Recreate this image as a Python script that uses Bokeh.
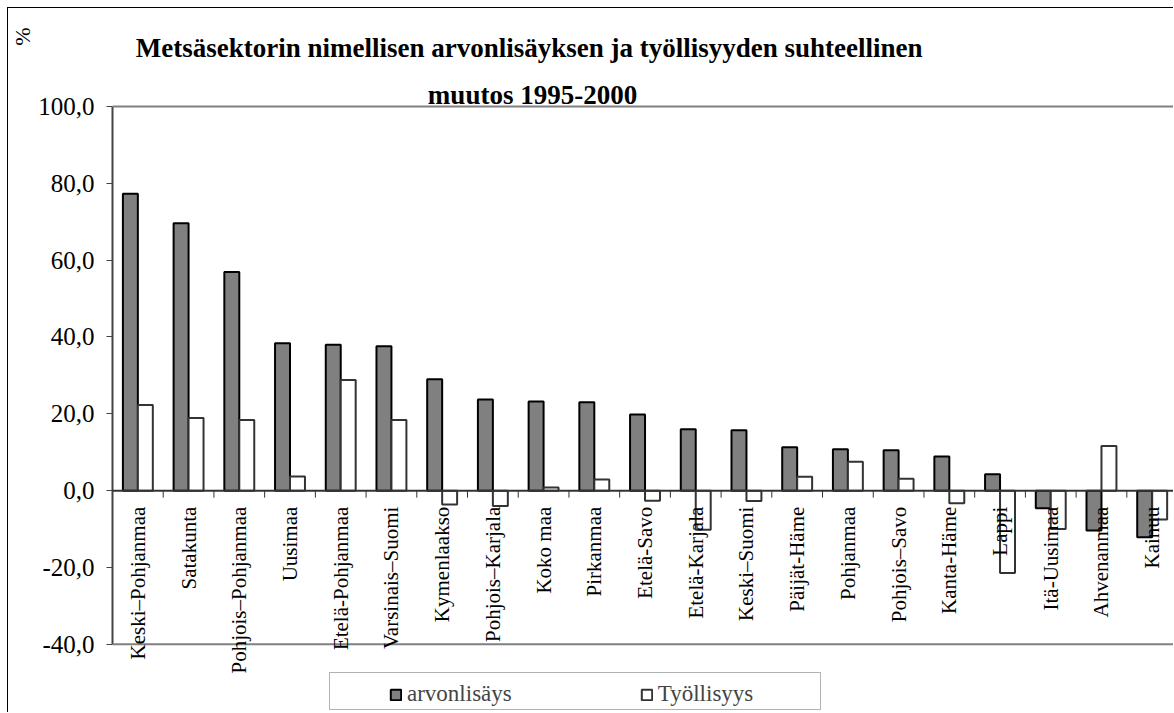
import numpy as np
from bokeh.plotting import figure
from bokeh.models import (Range1d, FixedTicker, CustomJSTickFormatter, Span, Label, LabelSet,
                          Legend, LegendItem, ColumnDataSource, BoxAnnotation, Title)
from bokeh.embed import file_html
from bokeh.resources import INLINE

# ---- data ----
categories = ["Keski–Pohjanmaa", "Satakunta", "Pohjois–Pohjanmaa", "Uusimaa",
              "Etelä-Pohjanmaa", "Varsinais–Suomi", "Kymenlaakso", "Pohjois–Karjala",
              "Koko maa", "Pirkanmaa", "Etelä-Savo", "Etelä-Karjala", "Keski–Suomi",
              "Päijät-Häme", "Pohjanmaa", "Pohjois–Savo", "Kanta-Häme", "Lappi",
              "Itä-Uusimaa", "Ahvenanmaa", "Kainuu"]
arvonlisays = [77.3, 69.6, 56.9, 38.4, 38.0, 37.6, 29.0, 23.7, 23.2, 23.0, 19.8,
               16.0, 15.7, 11.3, 10.8, 10.5, 8.9, 4.3, -4.6, -10.4, -12.1]
tyollisyys = [22.3, 18.9, 18.4, 3.7, 28.8, 18.4, -3.6, -4.0, 0.8, 2.9, -2.6,
              -10.2, -2.7, 3.6, 7.5, 3.1, -3.3, -21.4, -10.0, 11.6, -7.5]
y_ticks = [-40, -20, 0, 20, 40, 60, 80, 100]
series_names = ["arvonlisäys", "Työllisyys"]
title_line1 = "Metsäsektorin nimellisen arvonlisäyksen ja työllisyyden  suhteellinen"
title_line2 = "muutos 1995-2000"
y_unit = "%"

n = len(categories)
centers = np.arange(n) + 0.5
bar_w = 0.295
FONT = "Liberation Serif"
Y_MIN, Y_MAX = -40, 100
Y_VIEW_MIN, Y_VIEW_MAX = -58.0, 125.5   # room for title above and labels/legend below
FRAME_H = 705
tick_len = 7 * (Y_VIEW_MAX - Y_VIEW_MIN) / FRAME_H  # 7 px in data units

p = figure(width=1166, height=705, x_range=Range1d(0, 20.94),
           y_range=Range1d(Y_VIEW_MIN, Y_VIEW_MAX),
           output_backend="svg", toolbar_location=None,
           min_border_left=102, min_border_right=0, min_border_top=0, min_border_bottom=0,
           background_fill_color="white", border_fill_color="white")
p.outline_line_color = None
p.xgrid.visible = False
p.ygrid.visible = False
p.xaxis.visible = False
p.styles = {"margin": "7px 0 0 7px", "border-left": "1px solid black",
            "border-top": "1px solid black"}

# bars
r1 = p.vbar(x=centers - bar_w / 2, top=arvonlisays, width=bar_w,
            fill_color="#808080", line_color="black", line_width=2)
r2 = p.vbar(x=centers + bar_w / 2, top=tyollisyys, width=bar_w,
            fill_color="white", line_color="#333333", line_width=2)

# plot-area top/bottom lines and category axis at zero
for loc in (Y_MAX, Y_MIN):
    p.add_layout(Span(location=loc, dimension="width", line_color="#808080", line_width=2))
p.add_layout(Span(location=0, dimension="width", line_color="#333333", line_width=2))

bounds = np.arange(1, n + 1)
p.segment(x0=bounds, y0=np.zeros(n), x1=bounds, y1=np.full(n, -tick_len),
          line_color="#333333", line_width=1)

# category labels
lab_src = ColumnDataSource(dict(x=centers, y=np.zeros(n), names=categories))
p.add_layout(LabelSet(x="x", y="y", text="names", source=lab_src, angle=np.pi / 2,
                      text_align="right", text_baseline="middle", y_offset=-16,
                      text_font=FONT, text_font_size="21px", text_color="black"))

# y axis
ya = p.yaxis[0]
ya.bounds = (Y_MIN, Y_MAX)
ya.ticker = FixedTicker(ticks=y_ticks)
ya.formatter = CustomJSTickFormatter(code="return tick.toFixed(1).replace('.', ',');")
ya.major_tick_in = 0
ya.major_tick_out = 6
ya.major_tick_line_color = "#444444"
ya.minor_tick_line_color = None
ya.axis_line_color = "#444444"
ya.axis_line_width = 2
ya.major_label_standoff = 12
ya.major_label_text_font = FONT
ya.major_label_text_font_size = "25px"
ya.major_label_text_color = "black"

# "%" unit label, placed at the top of the left margin
p.add_layout(Title(text=y_unit, align="right", vertical_align="middle", offset=19,
                   standoff=0, text_font=FONT, text_font_style="normal",
                   text_font_size="22px", text_color="black"), "left")

# chart title (two centred lines)
p.add_layout(Label(x=420, y=666, x_units="screen", y_units="screen", text=title_line1,
                   text_align="center", text_baseline="alphabetic", text_font=FONT,
                   text_font_style="bold", text_font_size="27px", text_color="black"))
p.add_layout(Label(x=420, y=619, x_units="screen", y_units="screen", text=title_line2,
                   text_align="center", text_baseline="alphabetic", text_font=FONT,
                   text_font_style="bold", text_font_size="27px", text_color="black"))

# legend box and legend
p.add_layout(BoxAnnotation(left=217, right=708, bottom=4, top=41,
                           left_units="screen", right_units="screen",
                           bottom_units="screen", top_units="screen",
                           fill_color="white", fill_alpha=1.0,
                           line_color="black", line_width=1))
legend = Legend(items=[LegendItem(label=series_names[0], renderers=[r1]),
                       LegendItem(label=series_names[1], renderers=[r2])],
                orientation="horizontal", location=(277, 6), padding=5, spacing=128,
                label_standoff=5, glyph_width=13, glyph_height=13, label_width=104,
                label_text_font=FONT, label_text_font_size="23px",
                border_line_color=None, margin=0, background_fill_alpha=0)
p.add_layout(legend, "center")

open("out.html", "w").write(file_html(p, INLINE))
